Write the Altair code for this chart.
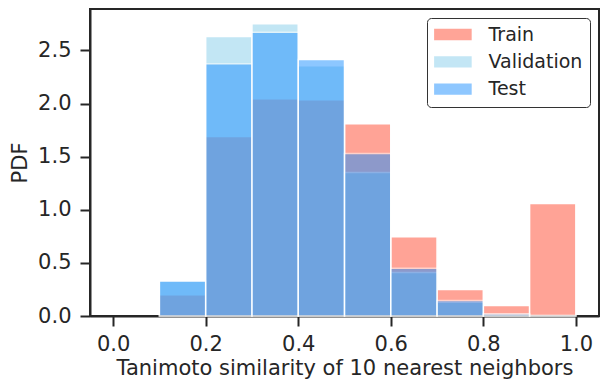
import altair as alt
import pandas as pd

# ---- data (density per 0.1-wide bin) ----
bin_starts = [0.0, 0.1, 0.2, 0.3, 0.4, 0.5, 0.6, 0.7, 0.8, 0.9]
series_names = ["Train", "Validation", "Test"]
train = [0.0, 0.20, 1.69, 2.045, 2.035, 1.81, 0.745, 0.25, 0.10, 1.06]
validation = [0.0, 0.33, 2.63, 2.75, 2.355, 1.35, 0.41, 0.13, 0.02, 0.005]
test = [0.0, 0.33, 2.375, 2.67, 2.415, 1.53, 0.45, 0.145, 0.02, 0.005]
series_colors = ["#FF4A30", "#87CEEB", "#1E90FF"]
x_ticks = [0.0, 0.2, 0.4, 0.6, 0.8, 1.0]
y_ticks = [0.0, 0.5, 1.0, 1.5, 2.0, 2.5]

rows = []
for order, (name, vals) in enumerate(zip(series_names, [train, validation, test])):
    for b, v in zip(bin_starts, vals):
        rows.append({"series": name, "order": order, "bin_start": b,
                     "bin_end": round(b + 0.1, 1), "density": v})
df = pd.DataFrame(rows)

FONT = "DejaVu Sans"
TXT = "#262626"

chart = (
    alt.Chart(df)
    .transform_filter("datum.density > 0")
    .mark_rect(opacity=0.5, stroke="white", strokeWidth=1.5)
    .encode(
        x=alt.X("bin_start:Q",
                scale=alt.Scale(domain=[-0.05, 1.05], nice=False, zero=False),
                axis=alt.Axis(values=x_ticks, format=".1f",
                              title="Tanimoto similarity of 10 nearest neighbors",
                              titlePadding=3, labelPadding=7)),
        x2="bin_end:Q",
        y=alt.Y("density:Q",
                scale=alt.Scale(domain=[0, 2.89], nice=False),
                axis=alt.Axis(values=y_ticks, format=".1f", title="PDF",
                              titlePadding=7, labelPadding=9)),
        y2=alt.datum(0),
        color=alt.Color("series:N",
                        scale=alt.Scale(domain=series_names, range=series_colors),
                        legend=alt.Legend(title=None, orient="none",
                                          legendX=337, legendY=9,
                                          symbolType="M-1,-0.6L3,-0.6L3,0.6L-1,0.6Z",
                                          symbolSize=353, symbolOpacity=0.5,
                                          symbolStrokeWidth=0,
                                          labelFontSize=19, labelFont=FONT,
                                          labelColor=TXT, padding=7,
                                          strokeColor="#333333", cornerRadius=4,
                                          fillColor="white", rowPadding=7.3,
                                          labelOffset=35.5)),
        order=alt.Order("order:Q"),
    )
    .properties(width=509, height=307,
                padding={"left": 82, "top": 1, "right": 1, "bottom": 63},
                autosize=alt.AutoSizeParams(type="none"))
    .configure_view(stroke=TXT, strokeWidth=2)
    .configure_axis(grid=False, domainColor=TXT, domainWidth=2,
                    tickColor=TXT, tickWidth=2, tickSize=10,
                    labelFontSize=21, titleFontSize=21,
                    labelFont=FONT, titleFont=FONT,
                    labelColor=TXT, titleColor=TXT,
                    titleFontWeight="normal", zindex=1)
)

chart.save("out.html", embed_options={"renderer": "svg", "actions": False})
